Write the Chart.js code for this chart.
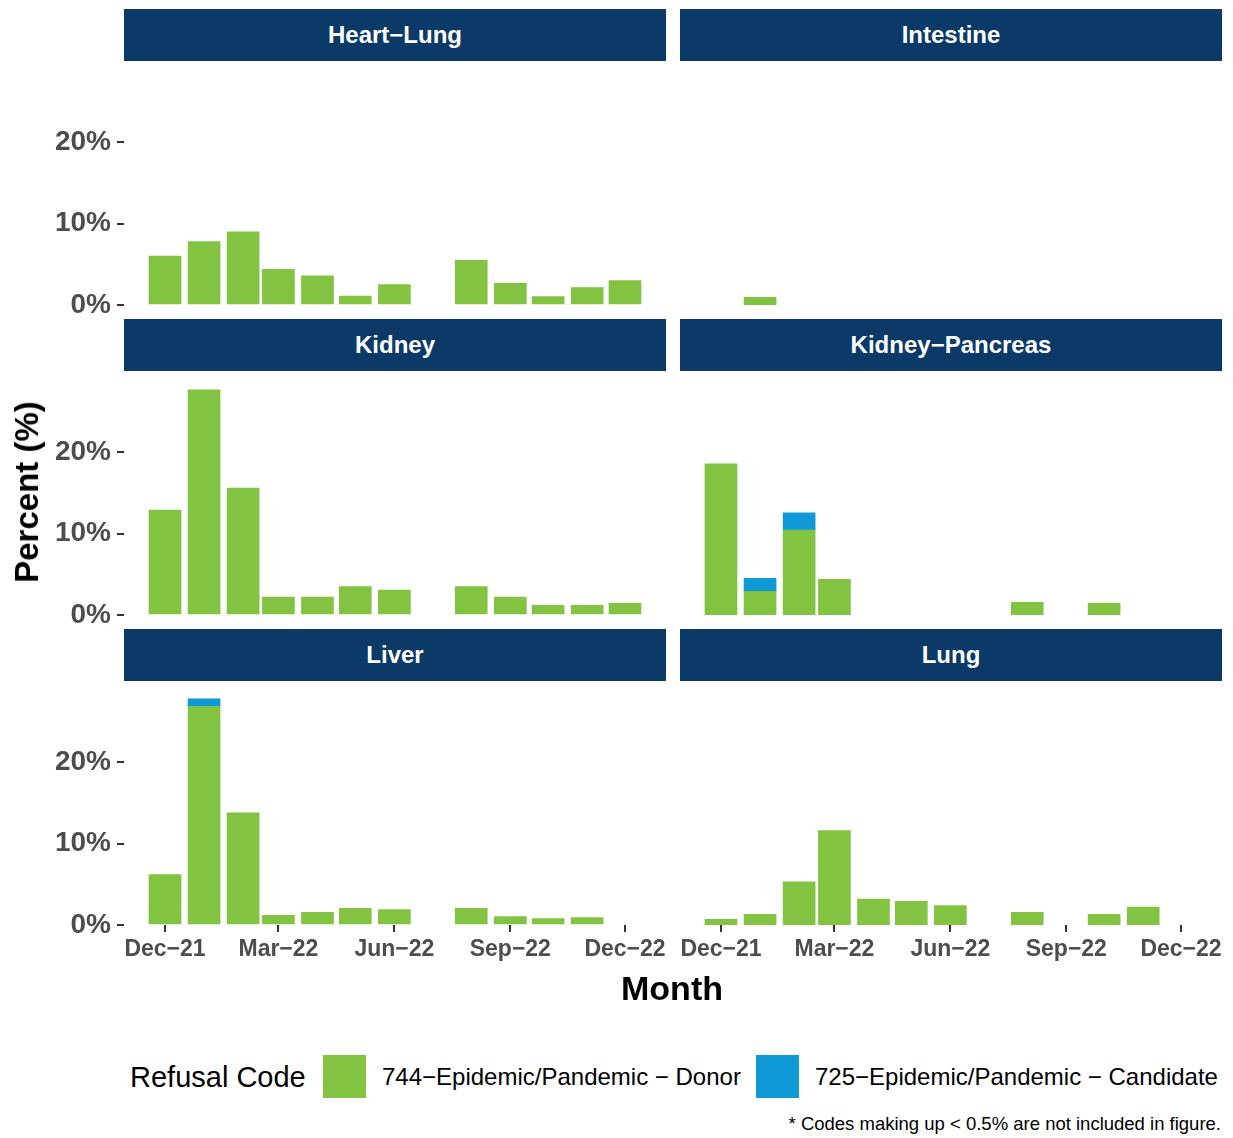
<!DOCTYPE html>
<html>
<head>
<meta charset="utf-8">
<script src="https://cdn.jsdelivr.net/npm/chart.js@4.4.0/dist/chart.umd.min.js"></script>
<style>
  body { margin: 0; background: #fff; font-family: "Liberation Sans", Arial, sans-serif; }
  #wrap { position: relative; width: 1233px; height: 1138px; }
  .strip { position: absolute; width: 542px; height: 52px; background: #0B3A69; color: #fff;
           font-weight: bold; font-size: 24px; display: flex; align-items: center; justify-content: center; }
  .panel { position: absolute; }
  #ytitle { position: absolute; left: 27px; top: 492px; transform: translate(-50%, -50%) rotate(-90deg);
            font-weight: bold; font-size: 33px; white-space: nowrap; color: #000; }
  #xtitle { position: absolute; left: 672px; top: 988px; transform: translate(-50%, -50%);
            font-weight: bold; font-size: 34px; color: #000; }
  .legtxt { position: absolute; top: 1077px; transform: translateY(-50%); font-size: 24px; white-space: nowrap; color: #000; }
  .key { position: absolute; top: 1055px; width: 43px; height: 43px; }
  #note { position: absolute; right: 12px; top: 1124px; transform: translateY(-50%); font-size: 18.5px; color: #000; }
</style>
</head>
<body>
<div id="wrap"></div>
<script>
// months of the data (first day of month)
const months = ['2021-12', '2022-01', '2022-02', '2022-03', '2022-04', '2022-05', '2022-06',
                '2022-07', '2022-08', '2022-09', '2022-10', '2022-11', '2022-12'];
const tickMonths = ['2021-12', '2022-03', '2022-06', '2022-09', '2022-12'];
const tickLabels = ['Dec\u221221', 'Mar\u221222', 'Jun\u221222', 'Sep\u221222', 'Dec\u221222'];
const yTicks = [0, 10, 20];

const organs = ['Heart\u2212Lung', 'Intestine', 'Kidney', 'Kidney\u2212Pancreas', 'Liver', 'Lung'];

// 744-Epidemic/Pandemic - Donor (%)
const donorHeartLung = [6.0, 7.8, 9.0, 4.4, 3.6, 1.1, 2.5, null, 5.5, 2.65, 1.05, 2.15, 3.0];
const donorIntestine = [null, 0.95, null, null, null, null, null, null, null, null, null, null, null];
const donorKidney = [12.9, 27.7, 15.6, 2.2, 2.2, 3.5, 3.05, null, 3.5, 2.2, 1.2, 1.2, 1.45];
const donorKidneyPancreas = [18.6, 2.9, 10.45, 4.4, null, null, null, null, 1.55, null, 1.45, null, null];
const donorLiver = [6.2, 26.9, 13.8, 1.2, 1.55, 2.05, 1.9, null, 2.05, 1.05, 0.8, 0.9, null];
const donorLung = [0.7, 1.3, 5.3, 11.6, 3.2, 2.9, 2.4, null, 1.55, null, 1.3, 2.2, null];

// 725-Epidemic/Pandemic - Candidate (%)
const candHeartLung = [];
const candIntestine = [];
const candKidney = [];
const candKidneyPancreas = [null, 1.6, 2.1];
const candLiver = [null, 0.9];
const candLung = [];

const donorSeries = [donorHeartLung, donorIntestine, donorKidney, donorKidneyPancreas, donorLiver, donorLung];
const candSeries = [candHeartLung, candIntestine, candKidney, candKidneyPancreas, candLiver, candLung];

const GREEN = '#82C341';
const BLUE = '#0F9AD7';
const GREY = '#4D4D4D';

Chart.defaults.font.family = '"Liberation Sans", Arial, sans-serif';

const dayOf = m => (Date.UTC(+m.slice(0, 4), +m.slice(5) - 1, 1) - Date.UTC(2021, 11, 1)) / 864e5;
const toPoints = vals => months.map((m, i) => ({ x: dayOf(m), y: vals[i] }))
                               .filter(p => p.y !== null && p.y !== undefined);

// layout
const wrap = document.getElementById('wrap');
const pxPerDay = 460 / 365;
const colLeft = [124, 680];
const colZero = [165, 721];      // pixel of Dec-21
const rowStrip = [9, 319, 629];
const areaH = 244;
const yAxisW = 124;
const xAxisH = 50;
const spare = 20;                // room under non-bottom panels for the "0%" label

organs.forEach((name, idx) => {
  const col = idx % 2, row = Math.floor(idx / 2);
  const strip = document.createElement('div');
  strip.className = 'strip';
  strip.style.left = colLeft[col] + 'px';
  strip.style.top = rowStrip[row] + 'px';
  strip.textContent = name;
  wrap.appendChild(strip);

  const showY = col === 0, showX = row === 2;
  const areaLeft = colLeft[col];
  const areaRight = colLeft[col] + 542;
  const canvasLeft = showY ? 0 : colLeft[col];
  const w = areaRight - canvasLeft;
  const h = areaH + (showX ? xAxisH : spare);

  const box = document.createElement('div');
  box.className = 'panel';
  box.style.left = canvasLeft + 'px';
  box.style.top = (rowStrip[row] + 52) + 'px';
  const cv = document.createElement('canvas');
  cv.width = w; cv.height = h;
  cv.style.width = w + 'px'; cv.style.height = h + 'px';
  box.appendChild(cv);
  wrap.appendChild(box);

  new Chart(cv.getContext('2d'), {
    type: 'bar',
    data: {
      datasets: [
        { label: '744', data: toPoints(donorSeries[idx]), backgroundColor: GREEN, barThickness: 32 },
        { label: '725', data: toPoints(candSeries[idx]), backgroundColor: BLUE, barThickness: 32 }
      ]
    },
    options: {
      responsive: false,
      animation: false,
      devicePixelRatio: 1,
      layout: { padding: { top: 0, left: 0, right: 0, bottom: showX ? 0 : spare } },
      plugins: { legend: { display: false }, tooltip: { enabled: false } },
      scales: {
        x: {
          type: 'linear',
          stacked: true,
          offset: false,
          display: showX,
          min: (areaLeft - colZero[col]) / pxPerDay,
          max: (areaRight - colZero[col]) / pxPerDay,
          afterBuildTicks: s => { s.ticks = tickMonths.map(m => ({ value: dayOf(m) })); },
          afterFit: s => { s.height = showX ? xAxisH : 0; s.paddingLeft = 0; s.paddingRight = 0; },
          grid: { drawOnChartArea: false, drawTicks: true, tickLength: 7, tickColor: '#333333', lineWidth: 2, offset: false },
          border: { display: false },
          ticks: {
            autoSkip: false, maxRotation: 0, padding: 4,
            color: GREY, font: { size: 23, weight: 'bold' },
            callback: v => tickLabels[tickMonths.findIndex(m => dayOf(m) === v)]
          }
        },
        y: {
          stacked: true,
          display: showY,
          min: 0,
          max: 30,
          afterBuildTicks: s => { s.ticks = yTicks.map(v => ({ value: v })); },
          afterFit: s => { s.width = showY ? yAxisW : 0; s.paddingTop = 0; s.paddingBottom = 0; },
          grid: { drawOnChartArea: false, drawTicks: true, tickLength: 7, tickColor: '#333333', lineWidth: 2 },
          border: { display: false },
          ticks: { padding: 6, color: GREY, font: { size: 28, weight: 'bold' }, callback: v => v + '%' }
        }
      }
    }
  });
});

// titles, legend and note
wrap.insertAdjacentHTML('beforeend',
  '<div id="ytitle">Percent (%)</div>' +
  '<div id="xtitle">Month</div>' +
  '<div class="legtxt" style="left:130px;font-size:29px">Refusal Code</div>' +
  '<div class="key" style="left:323px;background:' + GREEN + '"></div>' +
  '<div class="legtxt" style="left:382px">744\u2212Epidemic/Pandemic \u2212 Donor</div>' +
  '<div class="key" style="left:756px;background:' + BLUE + '"></div>' +
  '<div class="legtxt" style="left:815px">725\u2212Epidemic/Pandemic \u2212 Candidate</div>' +
  '<div id="note">* Codes making up &lt; 0.5% are not included in figure.</div>');
</script>
</body>
</html>
